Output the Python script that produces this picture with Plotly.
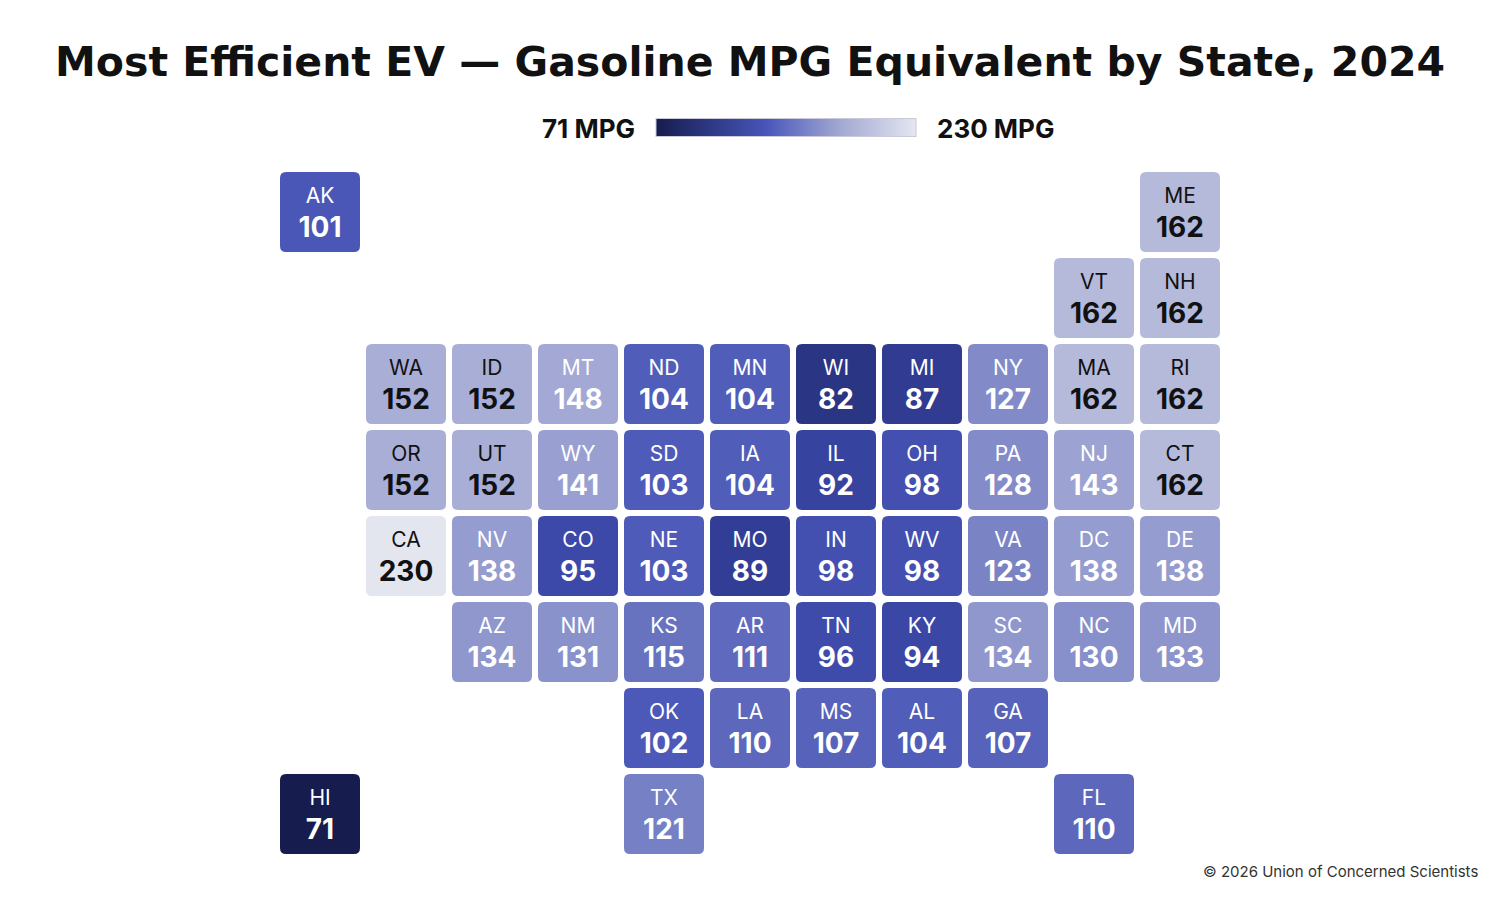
import plotly.graph_objects as go

# --- data -------------------------------------------------------------------
states = ["AK", "ME",
          "VT", "NH",
          "WA", "ID", "MT", "ND", "MN", "WI", "MI", "NY", "MA", "RI",
          "OR", "UT", "WY", "SD", "IA", "IL", "OH", "PA", "NJ", "CT",
          "CA", "NV", "CO", "NE", "MO", "IN", "WV", "VA", "DC", "DE",
          "AZ", "NM", "KS", "AR", "TN", "KY", "SC", "NC", "MD",
          "OK", "LA", "MS", "AL", "GA",
          "HI", "TX", "FL"]
cols = [0, 10,
        9, 10,
        1, 2, 3, 4, 5, 6, 7, 8, 9, 10,
        1, 2, 3, 4, 5, 6, 7, 8, 9, 10,
        1, 2, 3, 4, 5, 6, 7, 8, 9, 10,
        2, 3, 4, 5, 6, 7, 8, 9, 10,
        4, 5, 6, 7, 8,
        0, 4, 9]
rows = [0, 0,
        1, 1,
        2, 2, 2, 2, 2, 2, 2, 2, 2, 2,
        3, 3, 3, 3, 3, 3, 3, 3, 3, 3,
        4, 4, 4, 4, 4, 4, 4, 4, 4, 4,
        5, 5, 5, 5, 5, 5, 5, 5, 5,
        6, 6, 6, 6, 6,
        7, 7, 7]
mpg = [101, 162,
       162, 162,
       152, 152, 148, 104, 104, 82, 87, 127, 162, 162,
       152, 152, 141, 103, 104, 92, 98, 128, 143, 162,
       230, 138, 95, 103, 89, 98, 98, 123, 138, 138,
       134, 131, 115, 111, 96, 94, 134, 130, 133,
       102, 110, 107, 104, 107,
       71, 121, 110]

VMIN, VMAX = 71, 230
N_COLS, N_ROWS = 11, 8

# tile colours keyed by MPG value
TILE_STOPS = [(71, "#161c4e"), (82, "#2a3584"), (89, "#323e96"), (95, "#3c49a8"),
              (101, "#4a57b7"), (110, "#5d68bd"), (121, "#7680c4"), (134, "#8f97cd"),
              (152, "#a9aed6"), (162, "#b6bada"), (230, "#e3e5ef")]
tile_scale = [[(v - VMIN) / (VMAX - VMIN), c] for v, c in TILE_STOPS]
legend_scale = [[0.0, "#161c4e"], [0.42, "#4755b9"], [0.7, "#a0a6d2"], [1.0, "#e4e6f0"]]

FONT = "Inter, Open Sans, sans-serif"
TITLE_FONT = "DejaVu Sans, Inter, sans-serif"

# plot area in figure pixels; the page body shifts the figure by 8px
OFF = 8
L, T, W, H = 269, 161, 946, 688
CELL = W / N_COLS          # 86 px per grid step
GAP = 6


def px(x):
    return (x - OFF - L) / W


def py(y):
    return (T + H - (y - OFF)) / H


# --- grid ---------------------------------------------------------------------
z = [[None] * N_COLS for _ in range(N_ROWS)]
for c, r, v in zip(cols, rows, mpg):
    z[r][c] = v

txt_color = ["#111111" if v >= 150 else "#ffffff" for v in mpg]

fig = go.Figure()
fig.add_trace(go.Heatmap(
    z=z, x=list(range(N_COLS)), y=list(range(N_ROWS)),
    colorscale=tile_scale, zmin=VMIN, zmax=VMAX, showscale=False,
    xgap=GAP, ygap=GAP, hoverongaps=False,
    hovertemplate="%{z} MPG<extra></extra>"))

fig.add_trace(go.Scatter(
    x=cols, y=[r - 0.165 for r in rows], mode="text", text=states,
    textfont=dict(family=FONT, size=21, color=txt_color),
    hoverinfo="skip", showlegend=False))
fig.add_trace(go.Scatter(
    x=cols, y=[r + 0.21 for r in rows], mode="text",
    text=[f"<b>{v}</b>" for v in mpg],
    textfont=dict(family=FONT, size=28, color=txt_color),
    hoverinfo="skip", showlegend=False))

# white corner masks -> rounded tiles
half = (CELL - GAP) / 2 / CELL
rad = 6 / CELL
e = 1.5 / CELL
parts = []
for c, r in zip(cols, rows):
    for sx in (-1, 1):
        for sy in (-1, 1):
            cx, cy = c + sx * half, r + sy * half
            ox, oy = cx + sx * e, cy + sy * e
            parts.append(f"M{ox:.4f},{oy:.4f} L{cx - sx * rad:.4f},{oy:.4f} "
                         f"L{cx - sx * rad:.4f},{cy:.4f} Q{cx:.4f},{cy:.4f} "
                         f"{cx:.4f},{cy - sy * rad:.4f} L{ox:.4f},{cy - sy * rad:.4f} Z")
fig.add_shape(type="path", path=" ".join(parts), xref="x", yref="y",
              fillcolor="white", line=dict(width=0), layer="above")

# off-canvas trace that only carries the gradient legend
fig.add_trace(go.Scatter(
    x=[-5, -5], y=[-5, -5], mode="markers", hoverinfo="skip", showlegend=False,
    marker=dict(color=[VMIN, VMAX], cmin=VMIN, cmax=VMAX, colorscale=legend_scale,
                showscale=True,
                colorbar=dict(orientation="h", lenmode="pixels", len=260,
                              thickness=18, x=px(786), xanchor="center",
                              y=py(128), yanchor="middle", xpad=0, ypad=0,
                              outlinewidth=1, outlinecolor="#c8cad8",
                              ticks="", showticklabels=False))))

fig.add_annotation(text=f"<b>{VMIN} MPG</b>", xref="paper", yref="paper",
                   x=px(637), y=py(128), xanchor="right",
                   yanchor="middle", showarrow=False,
                   font=dict(family=FONT, size=26, color="#111111"))
fig.add_annotation(text=f"<b>{VMAX} MPG</b>", xref="paper", yref="paper",
                   x=px(935), y=py(128), xanchor="left",
                   yanchor="middle", showarrow=False,
                   font=dict(family=FONT, size=26, color="#111111"))
fig.add_annotation(text="© 2026 Union of Concerned Scientists", xref="paper",
                   yref="paper", x=px(1480), y=py(871),
                   xanchor="right", yanchor="middle", showarrow=False,
                   font=dict(family=FONT, size=15, color="#333333"))

fig.update_layout(
    width=1500, height=900,
    title=dict(text="<b>Most Efficient EV — Gasoline MPG Equivalent by State, 2024</b>",
               x=(750 - OFF) / 1500, xanchor="center", y=1 - (62 - OFF) / 900,
               yanchor="middle",
               font=dict(family=TITLE_FONT, size=41, color="#111111")),
    margin=dict(l=L, r=1500 - L - W, t=T, b=900 - T - H),
    paper_bgcolor="white", plot_bgcolor="white",
    xaxis=dict(range=[-0.5, N_COLS - 0.5], visible=False, fixedrange=True),
    yaxis=dict(range=[N_ROWS - 0.5, -0.5], visible=False, fixedrange=True),
    showlegend=False,
)

fig.write_html("out.html")
